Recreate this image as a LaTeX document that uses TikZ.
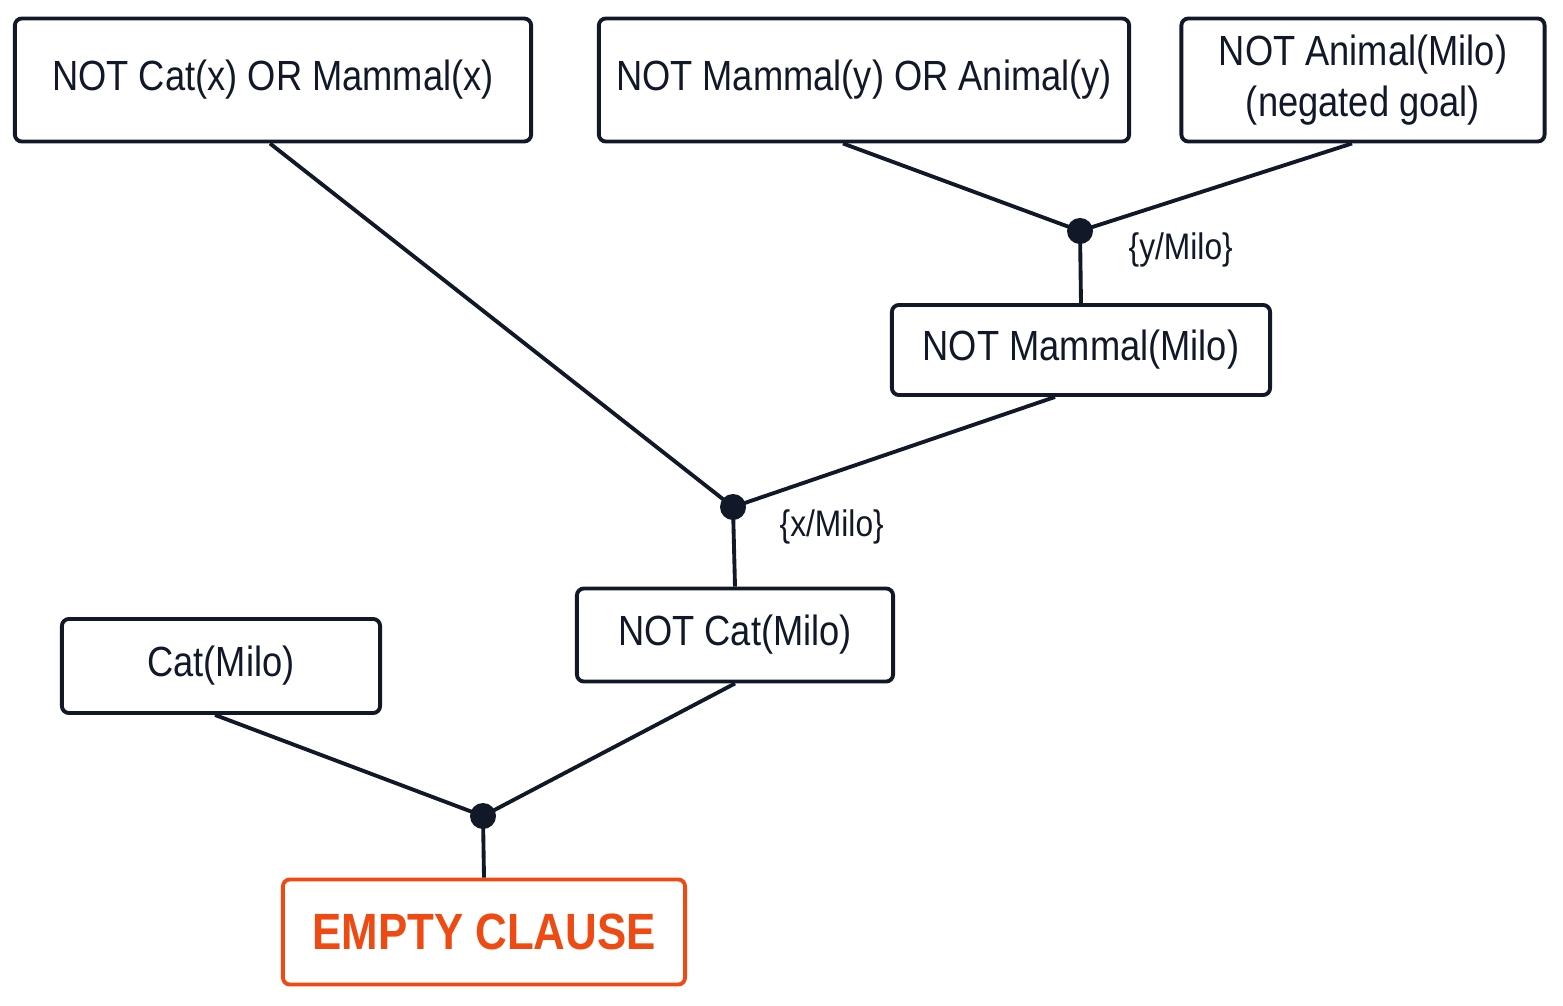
\documentclass[tikz,border=0pt]{standalone}
\usepackage{fontspec}
\setmainfont[FakeStretch=0.86]{Liberation Sans}
\definecolor{ink}{HTML}{111827}
\definecolor{empty}{HTML}{EE4B14}
\begin{document}
\begin{tikzpicture}[x=0.01cm, y=-0.01cm, line width=1.1pt, draw=ink,
  clause/.style={draw=ink, rounded corners=2pt, align=center, inner sep=0pt,
    font=\fontsize{12}{14.5}\selectfont, text=ink},
  res/.style={circle, fill=ink, minimum size=2.6mm, inner sep=0pt},
  subst/.style={font=\fontsize{10.5}{12}\selectfont, text=ink, anchor=west}]

\useasboundingbox (0,0) rectangle (1563,1006);

% ---------- Input clauses ----------
\node[clause, minimum width=5.16cm, minimum height=1.23cm] (catmam) at (273,80) {NOT Cat(x) OR Mammal(x)};
\node[clause, minimum width=5.30cm, minimum height=1.23cm] (mamani) at (864,80) {NOT Mammal(y) OR Animal(y)};
\node[clause, minimum width=3.63cm, minimum height=1.23cm] (goal) at (1363,80) {NOT Animal(Milo)\\(negated goal)};
\node[clause, minimum width=3.18cm, minimum height=0.94cm] (cat) at (221,666) {Cat(Milo)};

% ---------- Resolvents ----------
\node[clause, minimum width=3.78cm, minimum height=0.90cm] (notmam) at (1081,350) {NOT Mammal(Milo)};
\node[clause, minimum width=3.16cm, minimum height=0.93cm] (notcat) at (735,635) {NOT Cat(Milo)};
\node[clause, draw=empty, text=empty, minimum width=4.02cm, minimum height=1.05cm,
  font=\fontsize{14.5}{18}\selectfont\bfseries] (empty) at (484,932) {EMPTY CLAUSE};

% Resolution steps
\node[res] (r1) at (1080,231) {};
\node[res] (r2) at (733,507) {};
\node[res] (r3) at (483,816) {};

\node[subst] (s1) at (1115,250) {\{y/Milo\}};
\node[subst] (s2) at (766,527) {\{x/Milo\}};

% Edges
\draw ([xshift=-2.1mm]mamani.south) -- (r1.center);
\draw ([xshift=-1.1mm]goal.south) -- (r1.center);
\draw (r1.center) -- (notmam.north);

\draw ([xshift=-0.3mm]catmam.south) -- (r2.center);
\draw ([xshift=-2.6mm]notmam.south) -- (r2.center);
\draw (r2.center) -- (notcat.north);

\draw ([xshift=-0.6mm]cat.south) -- (r3.center);
\draw (notcat.south) -- (r3.center);
\draw (r3.center) -- (empty.north);

\end{tikzpicture}
\end{document}
